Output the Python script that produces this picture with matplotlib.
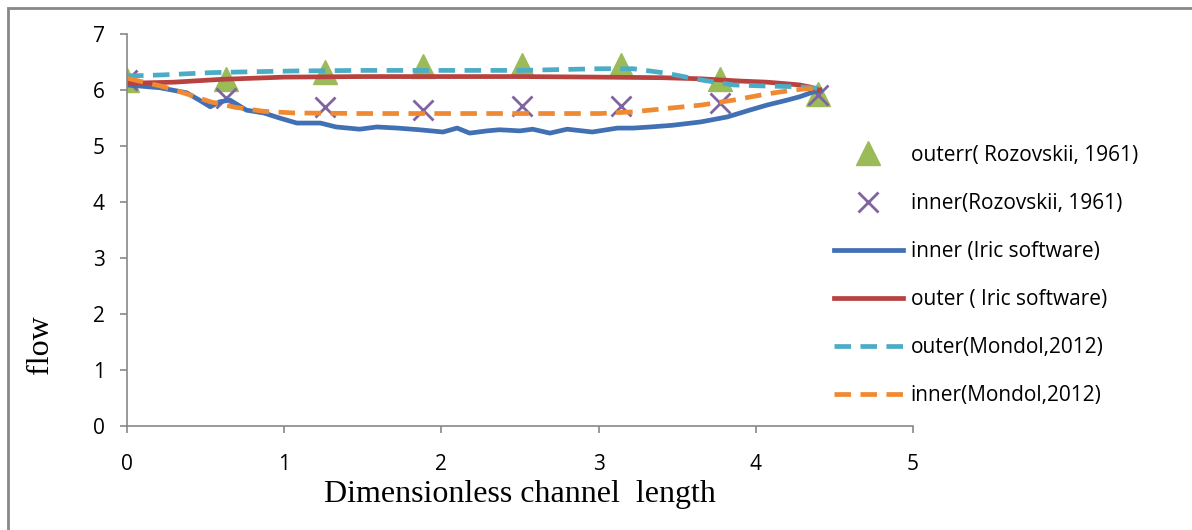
# Flow along bend: Rozovskii (1961) measurements vs Iric software and Mondol (2012)
import matplotlib.pyplot as plt
from matplotlib.patches import Rectangle

# Rozovskii measured points
x_roz = [0, 0.628, 1.257, 1.885, 2.513, 3.142, 3.770, 4.398]
outer_roz = [6.18, 6.2, 6.33, 6.43, 6.45, 6.44, 6.19, 5.92]
inner_roz = [6.18, 5.86, 5.7, 5.64, 5.71, 5.71, 5.77, 5.91]

# Iric software, inner bank
x_iric_in = [0, 0.21, 0.38, 0.46, 0.53, 0.59, 0.655, 0.76, 0.87, 0.97, 1.08, 1.23,
             1.33, 1.48, 1.59, 1.72, 1.86, 2.01, 2.1, 2.18, 2.29, 2.37, 2.5, 2.58,
             2.69, 2.8, 2.96, 3.12, 3.22, 3.33, 3.47, 3.65, 3.82, 3.96, 4.07, 4.2,
             4.28, 4.36, 4.41]
inner_iric = [6.09, 6.04, 5.95, 5.82, 5.7, 5.79, 5.82, 5.64, 5.59, 5.5, 5.41, 5.41,
              5.34, 5.3, 5.34, 5.32, 5.29, 5.25, 5.32, 5.23, 5.27, 5.29, 5.27, 5.3,
              5.23, 5.3, 5.25, 5.32, 5.32, 5.34, 5.37, 5.43, 5.52, 5.64, 5.73, 5.82,
              5.88, 5.96, 6.0]

# Iric software, outer bank
x_iric_out = [0, 0.3, 0.6, 1.0, 1.5, 2.0, 2.5, 3.0, 3.4, 3.65, 3.9, 4.07, 4.2, 4.28, 4.35, 4.4]
outer_iric = [6.12, 6.14, 6.19, 6.23, 6.24, 6.24, 6.24, 6.23, 6.22, 6.2, 6.16, 6.14,
              6.11, 6.09, 6.05, 6.0]

# Mondol 2012
x_mon = [0, 0.23, 0.38, 0.53, 0.69, 0.87, 1.06, 1.5, 2.0, 2.5, 3.01, 3.22, 3.43,
         3.65, 3.86, 4.07, 4.24, 4.32, 4.4]
outer_mon = [6.25, 6.27, 6.29, 6.31, 6.32, 6.33, 6.34, 6.35, 6.35, 6.35, 6.38, 6.38,
             6.3, 6.18, 6.09, 6.07, 6.06, 6.05, 6.03]
inner_mon = [6.21, 6.06, 5.93, 5.79, 5.69, 5.62, 5.59, 5.58, 5.58, 5.58, 5.58, 5.61,
             5.67, 5.73, 5.82, 5.93, 6.0, 6.02, 6.04]

c_green = '#9BBB59'
c_purple = '#8064A2'
c_blue = '#4170B4'
c_red = '#B8423F'
c_teal = '#4BACC6'
c_orange = '#F08A32'

fig = plt.figure(figsize=(11.92, 5.3), dpi=100)
ax = fig.add_axes([127/1192, 104/530, 786/1192, 392/530])

ax.plot(x_roz, outer_roz, linestyle='none', marker='^', markersize=17,
        color=c_green, label='outerr( Rozovskii, 1961)')
ax.plot(x_roz, inner_roz, linestyle='none', marker='x', markersize=15, markeredgewidth=2,
        color=c_purple, label='inner(Rozovskii, 1961)')
ax.plot(x_iric_in, inner_iric, color=c_blue, lw=3.4, label='inner (Iric software)')
ax.plot(x_iric_out, outer_iric, color=c_red, lw=3.4, label='outer ( Iric software)')
ax.plot(x_mon, outer_mon, color=c_teal, lw=3.4, dashes=(3.5, 2),
        label='outer(Mondol,2012)')
ax.plot(x_mon, inner_mon, color=c_orange, lw=3.4, dashes=(3.5, 2),
        label='inner(Mondol,2012)')

ax.set_xlim(0, 5)
ax.set_ylim(0, 7)
ax.set_xticks(range(6))
ax.set_yticks(range(8))
for s in ['top', 'right']:
    ax.spines[s].set_visible(False)
for s in ['left', 'bottom']:
    ax.spines[s].set_color('#888888')
    ax.spines[s].set_linewidth(1.2)
ax.tick_params(direction='out', length=5, width=1.2, color='#888888',
               labelsize=15, pad=11)
ax.tick_params(axis='x', pad=15)
for lab in ax.get_xticklabels() + ax.get_yticklabels():
    lab.set_family('Open Sans')

ax.set_xlabel('Dimensionless channel  length', family='Liberation Serif',
              fontsize=23, labelpad=4)
ax.set_ylabel('flow', family='Liberation Serif', fontsize=23)
ax.yaxis.set_label_coords(-0.092, 0.207)

leg = fig.legend(loc='upper left', bbox_to_anchor=(815/1192, 1 - 126/530),
                 frameon=False, prop={'family': 'Open Sans', 'size': 15},
                 handlelength=3.3, handletextpad=0.4, labelspacing=1.3)

# outer frame of the chart area
fig.patches.append(Rectangle((8/1192, -0.1), 1.2, 1.1 - 8/530, transform=fig.transFigure,
                             fill=False, edgecolor='#888888', lw=2))

plt.savefig('out.png', dpi=100)
